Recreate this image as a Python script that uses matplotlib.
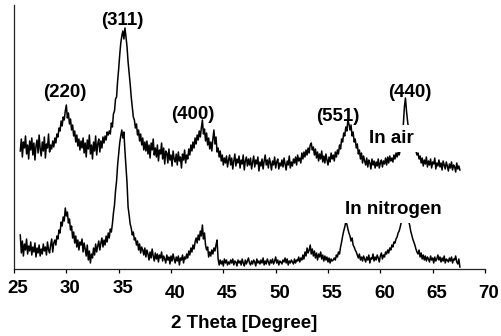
import numpy as np
import matplotlib
matplotlib.use("Agg")
import matplotlib.pyplot as plt
from matplotlib.transforms import offset_copy

# ---------------- data ----------------
# 2-theta sampling grid: 25.6 ... 67.6 in 0.1 degree steps
two_theta = np.round(np.arange(256, 677) / 10.0, 1)

# intensity (arbitrary units) for the sample annealed in air
in_air = [
    118, 130, 112, 127, 121, 133, 115, 124, 110, 128,
    119, 131, 114, 126, 109, 123, 129, 116, 134, 120,
    113, 127, 118, 132, 111, 125, 121, 135, 117, 124,
    120, 128, 122, 131, 126, 135, 132, 141, 138, 148,
    143, 152, 149, 158, 164, 151, 156, 145, 150, 139,
    144, 133, 138, 127, 134, 123, 130, 119, 128, 121,
    131, 116, 126, 112, 129, 120, 134, 115, 124, 110,
    127, 118, 133, 114, 125, 130, 117, 128, 121, 132,
    126, 133, 129, 137, 134, 138, 135, 146, 142, 155,
    158, 170, 172, 188, 200, 214, 226, 233, 238, 230,
    241, 232, 222, 207, 196, 185, 172, 162, 152, 149,
    141, 145, 134, 139, 128, 135, 124, 131, 119, 127,
    118, 128, 115, 124, 111, 126, 119, 130, 114, 121,
    112, 124, 108, 119, 115, 126, 110, 121, 105, 118,
    116, 106, 120, 109, 114, 103, 118, 110, 107, 115,
    104, 117, 108, 112, 101, 115, 109, 119, 106, 114,
    110, 120, 114, 124, 118, 127, 121, 131, 125, 134,
    129, 138, 132, 141, 149, 135, 140, 128, 136, 124,
    131, 120, 127, 118, 130, 139, 125, 132, 117, 121,
    112, 118, 108, 114, 104, 111, 106, 113, 102, 109,
    114, 104, 111, 100, 108, 115, 103, 110, 106, 113,
    101, 109, 105, 114, 99, 108, 112, 103, 110, 104,
    111, 100, 107, 113, 102, 109, 105, 112, 98, 107,
    103, 110, 100, 108, 114, 104, 109, 101, 111, 106,
    99, 108, 104, 112, 101, 107, 110, 100, 106, 103,
    109, 102, 111, 105, 99, 108, 104, 113, 101, 107,
    103, 110, 106, 112, 104, 114, 108, 111, 106, 116,
    110, 117, 112, 119, 114, 121, 116, 124, 126, 119,
    122, 114, 120, 111, 117, 108, 115, 110, 118, 107,
    113, 106, 115, 109, 104, 112, 107, 116, 110, 114,
    108, 117, 112, 119, 115, 124, 120, 130, 127, 136,
    133, 142, 138, 149, 145, 139, 144, 133, 137, 127,
    130, 121, 125, 115, 119, 110, 116, 106, 113, 108,
    104, 111, 102, 109, 106, 100, 110, 104, 108, 101,
    107, 103, 110, 101, 106, 109, 102, 108, 105, 111,
    104, 112, 106, 113, 108, 111, 107, 114, 110, 116,
    112, 117, 114, 119, 126, 134, 145, 162, 171, 158,
    148, 140, 134, 130, 127, 125, 123, 121, 118, 114,
    116, 110, 113, 106, 111, 103, 109, 105, 112, 102,
    108, 104, 110, 101, 107, 105, 111, 100, 106, 103,
    109, 102, 106, 99, 108, 104, 100, 107, 103, 98,
    105, 101, 107, 99, 104, 102, 97, 106, 100, 103,
    99,
]

# intensity (arbitrary units) for the sample annealed in nitrogen
in_nitrogen = [
    34, 16, 28, 13, 25, 19, 30, 15, 23, 18,
    27, 14, 22, 17, 26, 12, 21, 16, 24, 13,
    20, 15, 25, 18, 22, 14, 27, 19, 16, 24,
    30, 17, 26, 29, 24, 33, 30, 39, 36, 47,
    43, 52, 48, 61, 53, 57, 46, 50, 39, 43,
    31, 37, 26, 33, 22, 29, 19, 27, 24, 30,
    17, 26, 20, 13, 24, 9, 18, 6, 15, 11,
    21, 14, 25, 17, 23, 28, 19, 26, 31, 22,
    29, 24, 33, 27, 36, 31, 40, 37, 45, 56,
    64, 78, 88, 104, 115, 126, 133, 139, 131, 137,
    118, 102, 86, 62, 54, 45, 41, 34, 37, 29,
    31, 24, 28, 19, 25, 16, 22, 19, 14, 21,
    12, 19, 15, 9, 17, 11, 20, 13, 8, 16,
    10, 15, 7, 14, 11, 17, 8, 13, 10, 6,
    14, 9, 12, 5, 13, 8, 15, 10, 6, 12,
    8, 13, 4, 11, 9, 14, 6, 12, 10, 15,
    11, 18, 14, 21, 17, 24, 20, 27, 31, 26,
    34, 29, 38, 33, 44, 30, 36, 24, 19, 22,
    12, 17, 13, 19, 15, 21, 18, 24, 29, 10,
    4, 9, 5, 8, 3, 10, 6, 9, 4, 7,
    5, 9, 6, 10, 4, 8, 7, 3, 9, 6,
    8, 4, 10, 6, 3, 9, 5, 8, 11, 6,
    4, 8, 5, 9, 7, 3, 10, 6, 8, 5,
    9, 6, 11, 4, 8, 5, 10, 7, 4, 9,
    6, 10, 5, 8, 12, 6, 9, 4, 8, 7,
    5, 9, 7, 11, 6, 10, 4, 8, 6, 9,
    7, 5, 10, 6, 9, 8, 12, 7, 11, 9,
    14, 10, 17, 13, 21, 16, 19, 24, 15, 20,
    13, 18, 11, 16, 9, 15, 12, 17, 10, 14,
    8, 13, 9, 12, 7, 11, 6, 10, 8, 9,
    11, 9, 14, 12, 17, 15, 22, 27, 33, 38,
    42, 47, 45, 40, 36, 33, 28, 31, 24, 22,
    19, 17, 14, 11, 15, 9, 12, 8, 13, 10,
    7, 12, 9, 14, 6, 11, 10, 15, 8, 12,
    9, 14, 11, 7, 13, 16, 10, 14, 12, 17,
    15, 19, 16, 21, 19, 24, 22, 27, 26, 30,
    32, 36, 38, 42, 47, 56, 64, 68, 63, 58,
    53, 48, 44, 38, 34, 30, 27, 24, 20, 17,
    15, 19, 12, 16, 10, 14, 9, 13, 8, 12,
    10, 7, 13, 9, 11, 6, 12, 8, 10, 14,
    9, 12, 7, 11, 8, 13, 6, 10, 9, 7,
    11, 8, 12, 6, 10, 9, 13, 7, 5, 10,
    2,
]

peak_labels = ["(220)", "(311)", "(400)", "(551)", "(440)"]
peak_label_x = [29.87, 35.32, 42.1, 55.9, 62.83]
peak_label_y = [172, 244, 150, 148, 172]
series_labels = ["In air", "In nitrogen"]
series_label_x = [61.02, 61.26]
series_label_y = [126, 55]
x_ticks = [25, 30, 35, 40, 45, 50, 55, 60, 65, 70]
x_label = "2 Theta [Degree]"

# ---------------- figure ----------------
W, H = 501, 336
plt.rcParams["font.family"] = ["Liberation Sans", "DejaVu Sans"]
fig = plt.figure(figsize=(W / 100, H / 100), dpi=100)
ax = fig.add_axes([14 / W, (H - 269) / H, (485 - 14) / W, (269 - 5) / H])

ax.plot(two_theta, in_air, color="black", lw=1.1)
ax.plot(two_theta, in_nitrogen, color="black", lw=1.1)

ax.set_xlim(25, 70)
ax.set_ylim(0, 264)
ax.set_yticks([])
ax.set_xticks(x_ticks)
ax.tick_params(axis="x", direction="out", length=3, width=0.9,
               color="black", labelbottom=False)
for s in ("top", "right"):
    ax.spines[s].set_visible(False)
for s in ("left", "bottom"):
    ax.spines[s].set_linewidth(0.9)
    ax.spines[s].set_color("#222222")

font = dict(fontsize=13.5, fontweight="bold", color="black")

# tick labels (the first three sit slightly higher in the reference)
for i, t in enumerate(x_ticks):
    dy = -24 if i < 3 else -29
    tr = offset_copy(ax.get_xaxis_transform(), fig=fig, x=4, y=dy, units="dots")
    ax.text(t, 0, str(t), transform=tr, ha="center", va="baseline", **font)

# peak labels
for lab, x, y in zip(peak_labels, peak_label_x, peak_label_y):
    ax.text(x, y, lab, ha="center", va="baseline", **font)

# series labels with white box
for lab, x, y in zip(series_labels, series_label_x, series_label_y):
    ax.text(x, y, lab, ha="center", va="baseline", zorder=5,
            bbox=dict(boxstyle="square,pad=0.25", fc="white", ec="none"),
            **font)

fig.text(244.5 / W, (H - 328) / H, x_label, ha="center", va="baseline", **font)

fig.savefig("out.png", dpi=100)
